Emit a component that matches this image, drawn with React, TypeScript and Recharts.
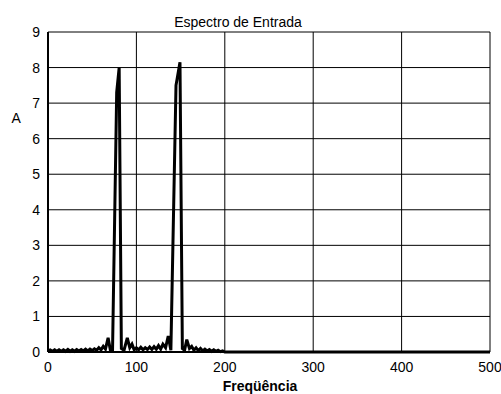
import { LineChart, Line, XAxis, YAxis, CartesianGrid } from "recharts";

// frequency bins (Hz) and spectrum magnitude at each bin
const freqs = [
  0, 2.5, 5, 7.5, 10, 12.5, 15, 17.5, 20, 22.5, 25, 27.5, 30, 32.5, 35, 37.5,
  40, 42.5, 45, 47.5, 50, 52.5, 55, 57.5, 60, 62.5, 65, 68, 70.5, 73, 77.7,
  80.5, 83, 86, 89.7, 92.5, 95, 97.5, 100, 102.5, 105, 107.5, 110, 112.5, 115,
  117.5, 120, 122.5, 125, 127.5, 130, 133, 136, 139, 144.8, 149.3, 152, 154.5,
  157, 160, 162.5, 165, 167.5, 170, 172.5, 175, 177.5, 180, 182.5, 185, 187.5,
  190, 192.5, 195, 197.5, 200, 250, 300, 350, 400, 450, 500,
];
const amps = [
  0.03, 0.06, 0.02, 0.06, 0.02, 0.06, 0.02, 0.06, 0.02, 0.07, 0.02, 0.06, 0.02,
  0.07, 0.03, 0.07, 0.03, 0.08, 0.03, 0.08, 0.04, 0.09, 0.05, 0.12, 0.06, 0.16,
  0.08, 0.4, 0.06, 0.05, 7.3, 8.0, 0.1, 0.05, 0.4, 0.12, 0.22, 0.06, 0.12,
  0.06, 0.13, 0.06, 0.12, 0.07, 0.14, 0.07, 0.15, 0.08, 0.18, 0.08, 0.22, 0.12,
  0.45, 0.05, 7.5, 8.15, 0.1, 0.05, 0.35, 0.1, 0.16, 0.05, 0.12, 0.04, 0.1,
  0.03, 0.08, 0.03, 0.07, 0.02, 0.06, 0.02, 0.05, 0.01, 0.03, 0, 0, 0, 0, 0, 0,
  0,
];
const xTicks = [0, 100, 200, 300, 400, 500];
const yTicks = [0, 1, 2, 3, 4, 5, 6, 7, 8, 9];

const data = freqs.map((f, i) => ({ f, a: amps[i] }));

const FONT = "'Liberation Sans', Arial, sans-serif";

export default function App() {
  return (
    <div style={{ position: "absolute", left: 0, top: 0, width: 501, height: 394, background: "#fff" }}>
      <LineChart
        width={501}
        height={394}
        data={data}
        margin={{ top: 32, right: 11, bottom: 0, left: 0 }}
        style={{ fontFamily: FONT }}
      >
        <CartesianGrid stroke="#000" strokeWidth={1} />
        <XAxis
          dataKey="f"
          type="number"
          domain={[0, 500]}
          ticks={xTicks}
          height={42}
          tickLine={false}
          tickMargin={4}
          axisLine={{ stroke: "#000", strokeWidth: 2 }}
          tick={{ fontSize: 14, fill: "#000", fontFamily: FONT }}
        />
        <YAxis
          type="number"
          domain={[0, 9]}
          ticks={yTicks}
          width={48}
          tickLine={false}
          axisLine={{ stroke: "#000", strokeWidth: 2 }}
          tick={{ fontSize: 14, fill: "#000", fontFamily: FONT }}
        />
        <Line
          dataKey="a"
          stroke="#000"
          strokeWidth={3}
          dot={false}
          isAnimationActive={false}
        />
      </LineChart>
      <svg
        width={501}
        height={394}
        style={{ position: "absolute", left: 0, top: 0, pointerEvents: "none" }}
      >
        <text x={238} y={27} textAnchor="middle" fontSize={14} fontFamily={FONT} fill="#000">
          Espectro de Entrada
        </text>
        <text x={11.5} y={123} fontSize={14} fontFamily={FONT} fill="#000">
          A
        </text>
        <text x={260} y={391} textAnchor="middle" fontSize={14} fontWeight="bold" fontFamily={FONT} fill="#000">
          Freqüência
        </text>
      </svg>
    </div>
  );
}
